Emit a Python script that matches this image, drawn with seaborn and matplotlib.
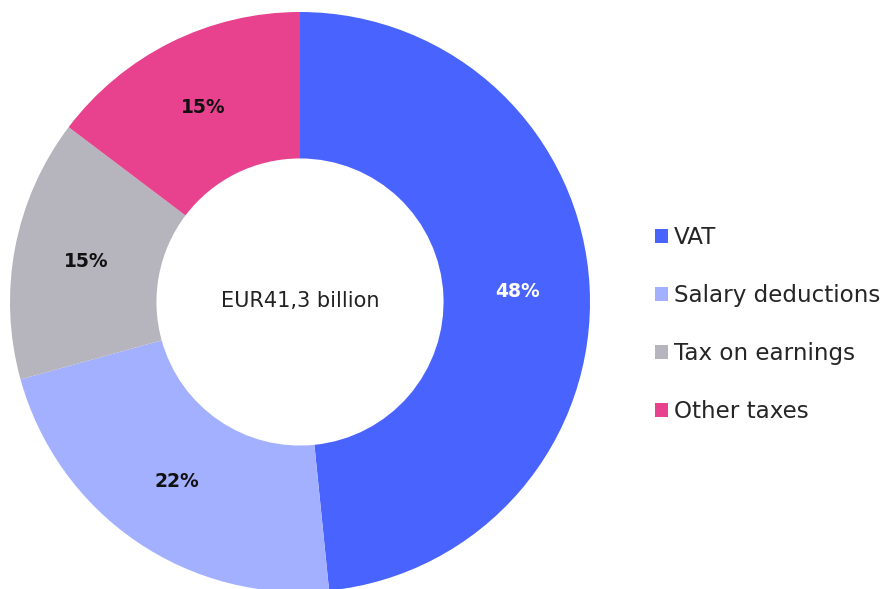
import matplotlib
matplotlib.use("Agg")
import matplotlib.pyplot as plt
import seaborn as sns
from matplotlib.patches import Patch

sns.set_theme(style="white")
plt.rcParams['font.family'] = ['DejaVu Sans']

categories = ["VAT", "Salary deductions", "Tax on earnings", "Other taxes"]
values = [48.4, 22.3, 14.6, 14.7]
colors = ["#4963FF", "#A3B0FF", "#B6B4BC", "#E8418E"]
label_colors = ["white", "#111111", "#111111", "#111111"]
center_text = "EUR41,3 billion"

fig = plt.figure(figsize=(8.95, 5.89), dpi=100)
ax = fig.add_axes([10/895, -3/589, 580/895, 580/589])
wedges, texts, autotexts = ax.pie(
    values, colors=colors, startangle=90, counterclock=False,
    radius=1.0, autopct='%.0f%%', pctdistance=0.75,
    wedgeprops=dict(width=0.505, edgecolor='none', linewidth=0),
    textprops=dict(fontsize=13.5, fontweight='bold'))
for t, c in zip(autotexts, label_colors):
    t.set_color(c)
ax.text(0, 0.005, center_text, ha='center', va='center', fontsize=15, color='#222222')
ax.set_xlim(-1, 1)
ax.set_ylim(-1, 1)
ax.set_aspect('equal')
ax.axis('off')

handles = [Patch(facecolor=c, edgecolor='none') for c in colors]
fig.legend(handles, categories, loc='center left', bbox_to_anchor=(646/895, 0.449),
           frameon=False, fontsize=16.6, handlelength=0.55, handleheight=0.55,
           handletextpad=0.25, labelspacing=1.52, borderaxespad=0)

fig.savefig("out.png", dpi=100)
